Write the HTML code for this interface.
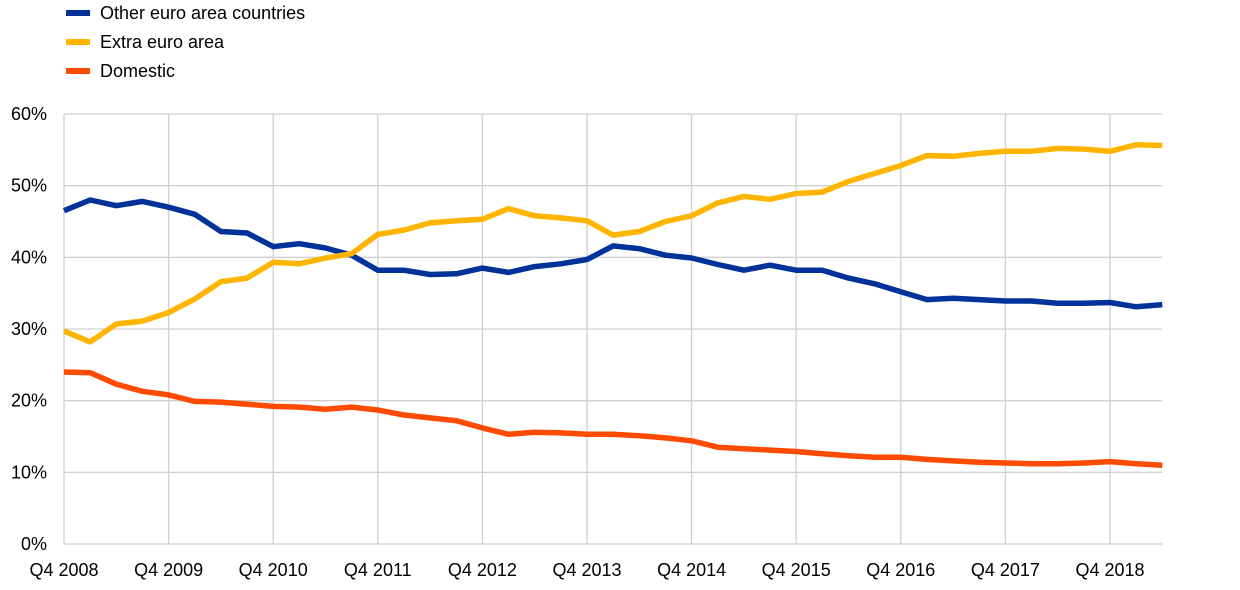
<!DOCTYPE html>
<html><head><meta charset="utf-8"><style>
body{margin:0;background:#fff;}
svg{display:block;font-family:"Liberation Sans",Arial,sans-serif;}
</style></head><body>
<svg id="c" width="1240" height="590" viewBox="0 0 1240 590" xmlns="http://www.w3.org/2000/svg">
<g stroke-width="6"><line x1="66" y1="13" x2="90" y2="13" stroke="#003299"/><line x1="66" y1="42" x2="90" y2="42" stroke="#ffb400"/><line x1="66" y1="71" x2="90" y2="71" stroke="#ff4b00"/></g>
<g font-size="18" fill="#000"><text x="100" y="19">Other euro area countries</text><text x="100" y="48">Extra euro area</text><text x="100" y="77">Domestic</text></g>
<g id="grid" stroke="#d0d0d0" stroke-width="1.3"></g>
<g id="lbl" font-size="18" fill="#000"></g>
<g id="ser" fill="none" stroke-width="5.5" stroke-linejoin="round"></g>
</svg>
<script>
var NS="http://www.w3.org/2000/svg",x0=64,dx=26.15,y0=544,sy=7.1667;
function el(p,t,a,txt){var e=document.createElementNS(NS,t);for(var k in a)e.setAttribute(k,a[k]);if(txt)e.textContent=txt;document.getElementById(p).appendChild(e);}
for(var v=0;v<=60;v+=10){var y=y0-v*sy;el("grid","line",{x1:x0,x2:1162,y1:y,y2:y});el("lbl","text",{x:47,y:y+6,"text-anchor":"end"},v+"%");}
for(var i=0;i<=10;i++){var x=x0+i*4*dx;el("grid","line",{x1:x,x2:x,y1:114,y2:544});el("lbl","text",{x:x,y:576,"text-anchor":"middle"},"Q4 "+(2008+i));}
var B=[46.5,48,47.2,47.8,47,46,43.6,43.4,41.5,41.9,41.3,40.3,38.2,38.2,37.6,37.7,38.5,37.9,38.7,39.1,39.7,41.6,41.2,40.3,39.9,39,38.2,38.9,38.2,38.2,37.1,36.3,35.2,34.1,34.3,34.1,33.9,33.9,33.6,33.6,33.7,33.1,33.4];
var Y=[29.7,28.2,30.7,31.1,32.3,34.2,36.6,37.1,39.3,39.1,39.9,40.5,43.2,43.8,44.8,45.1,45.3,46.8,45.8,45.5,45.1,43.1,43.6,45,45.8,47.6,48.5,48.1,48.9,49.1,50.6,51.7,52.8,54.2,54.1,54.5,54.8,54.8,55.2,55.1,54.8,55.7,55.6];
var O=[24,23.9,22.3,21.3,20.8,19.9,19.8,19.5,19.2,19.1,18.8,19.1,18.7,18,17.6,17.2,16.2,15.3,15.6,15.5,15.3,15.3,15.1,14.8,14.4,13.5,13.3,13.1,12.9,12.6,12.3,12.1,12.1,11.8,11.6,11.4,11.3,11.2,11.2,11.3,11.5,11.2,11.0];
[[B,"#003299"],[Y,"#ffb400"],[O,"#ff4b00"]].forEach(function(s){el("ser","polyline",{stroke:s[1],points:s[0].map(function(v,i){return (x0+i*dx).toFixed(1)+","+(y0-v*sy).toFixed(1)}).join(" ")});});
</script>
</body></html>
